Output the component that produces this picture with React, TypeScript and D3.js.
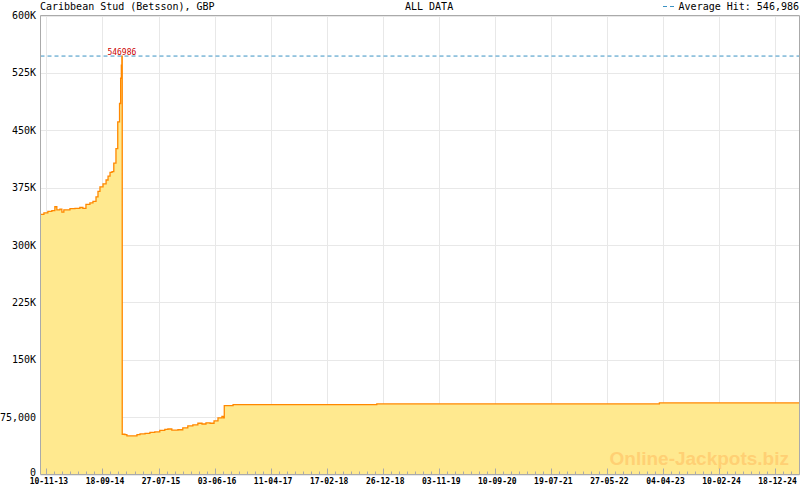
import React from "react";
import * as d3 from "d3";

const dates = [
  "2013-10-08","2013-10-27","2013-11-18","2013-12-10","2013-12-27","2014-01-07","2014-01-24","2014-02-04",
  "2014-02-15","2014-03-21","2014-04-18","2014-05-15","2014-06-01","2014-06-18","2014-07-10","2014-07-27",
  "2014-08-13","2014-08-24","2014-09-04","2014-09-21","2014-10-08","2014-10-19","2014-10-30","2014-11-10",
  "2014-11-20","2014-12-02","2014-12-12","2014-12-22","2014-12-28","2015-01-01","2015-01-04","2015-01-06",
  "2015-01-21","2015-02-01","2015-03-07","2015-03-29","2015-04-15","2015-05-13","2015-06-09","2015-07-06",
  "2015-08-03","2015-08-31","2015-09-17","2015-10-09","2015-11-12","2015-12-09","2016-01-06","2016-02-03",
  "2016-03-02","2016-03-25","2016-04-16","2016-05-09","2016-05-31","2016-06-22","2016-07-14","2016-07-22",
  "2016-07-27","2016-09-14","2018-11-23","2023-03-15","2025-05-03"
];
const values = [
  340000,342000,344000,345000,350000,346000,347000,343000,
  346000,347500,348000,349000,348000,353000,355000,357000,
  363000,370000,376000,380000,385000,390000,395000,396000,
  407000,426000,461000,485000,518000,535000,546986,52600,
  52000,50500,50500,52000,53000,53800,55000,55700,
  57800,59000,59500,58000,58500,61000,63500,65000,
  67000,66000,67500,67000,70000,74000,76000,74000,
  90000,91300,92200,93500,93500
];
const xDomain = ["2013-10-08", "2025-05-03"];
const xTickLabels = ["10-11-13","18-09-14","27-07-15","03-06-16","11-04-17","17-02-18","26-12-18","03-11-19","10-09-20","19-07-21","27-05-22","04-04-23","10-02-24","18-12-24"];
const yTickValues = [0, 75000, 150000, 225000, 300000, 375000, 450000, 525000, 600000];
const yTickLabels = ["0", "75,000", "150K", "225K", "300K", "375K", "450K", "525K", "600K"];
const averageHit = 546986;
const peakLabel = "546986";
const title = "Caribbean Stud (Betsson), GBP";
const subtitle = "ALL DATA";
const legendText = "Average Hit: 546,986";
const watermark = "Online-Jackpots.biz";

const W = 800, H = 490;
const L = 40.5, R = 799.5, T = 15.5, B = 474.5;
const MONO = "'DejaVu Sans Mono', monospace";

export default function App() {
  const parse = d3.timeParse("%Y-%m-%d");
  const parseTick = d3.timeParse("%d-%m-%y");
  const data = dates.map((d, i) => ({ date: parse(d) as Date, value: values[i] }));
  const x = d3.scaleTime().domain(xDomain.map((d) => parse(d) as Date)).range([L, R]);
  const y = d3.scaleLinear().domain([0, 600000]).range([B, T]);

  const majors = xTickLabels.map((t) => parseTick(t) as Date);
  const stepMs = majors[1].getTime() - majors[0].getTime();
  const minorMs = stepMs / 7;
  const minors: Date[] = [];
  for (let t = majors[0].getTime(); t <= x.domain()[1].getTime(); t += minorMs) minors.push(new Date(t));

  const area = d3.area<any>().x((d) => x(d.date)).y0(y(0)).y1((d) => y(d.value)).curve(d3.curveStepAfter);
  const line = d3.line<any>().x((d) => x(d.date)).y((d) => y(d.value)).curve(d3.curveStepAfter);

  const peak = data.reduce((a, b) => (b.value > a.value ? b : a));
  const grid = "#e8e8e8";
  const axis = "#aaaaaa";
  const avgColor = "#3a92c4";

  return (
    <svg width={W} height={H} style={{ position: "absolute", left: 0, top: 0, display: "block", background: "#fff" }}>
      {majors.map((d, i) => (
        <line key={"vg" + i} x1={Math.round(x(d)) + 0.5} x2={Math.round(x(d)) + 0.5} y1={T} y2={B} stroke={grid} strokeWidth={1} />
      ))}
      {yTickValues.map((v, i) => (
        <line key={"hg" + i} x1={L} x2={R} y1={Math.round(y(v)) + 0.5} y2={Math.round(y(v)) + 0.5} stroke={grid} strokeWidth={1} />
      ))}
      <path d={area(data) || ""} fill="#ffe98f" stroke="none" />
      <path d={line(data) || ""} fill="none" stroke="#ff8800" strokeWidth={1.3} />
      <text x={789} y={465} textAnchor="end" fontFamily="'Liberation Sans', Arial, sans-serif" fontWeight="bold" fontSize={19} fill="#ffd074">{watermark}</text>
      <line x1={L} x2={R} y1={y(averageHit)} y2={y(averageHit)} stroke={avgColor} strokeWidth={1} strokeDasharray="4,3" />
      <text x={x(peak.date)} y={y(peak.value) - 1} textAnchor="middle" fontFamily={MONO} fontSize={8} fill="#cc0000">{peakLabel}</text>
      <line x1={L} x2={R} y1={T} y2={T} stroke={axis} />
      <line x1={R} x2={R} y1={T} y2={B} stroke={axis} />
      <line x1={L} x2={L} y1={T} y2={B} stroke={axis} />
      <line x1={L} x2={R} y1={B} y2={B} stroke={axis} />
      {minors.map((d, i) => (
        <line key={"mt" + i} x1={Math.round(x(d)) + 0.5} x2={Math.round(x(d)) + 0.5} y1={B} y2={B - 3} stroke={axis} />
      ))}
      {majors.map((d, i) => (
        <line key={"Mt" + i} x1={Math.round(x(d)) + 0.5} x2={Math.round(x(d)) + 0.5} y1={B} y2={B - 6} stroke={axis} />
      ))}
      {majors.map((d, i) => (
        <text key={"xl" + i} x={x(d) + 2.5} y={484} textAnchor="middle" fontFamily={MONO} fontWeight="bold" fontSize={8} fill="#000">{xTickLabels[i]}</text>
      ))}
      {yTickValues.map((v, i) => (
        <text key={"yl" + i} x={36} y={Math.min(y(v) + 3.5, 476)} textAnchor="end" fontFamily={MONO} fontSize={10} fill="#000">{yTickLabels[i]}</text>
      ))}
      <text x={40} y={10} fontFamily={MONO} fontSize={10} fill="#000">{title}</text>
      <text x={405} y={10} fontFamily={MONO} fontSize={10} fill="#000">{subtitle}</text>
      <line x1={663} x2={675} y1={6.5} y2={6.5} stroke={avgColor} strokeDasharray="4,3" />
      <text x={799} y={10} textAnchor="end" fontFamily={MONO} fontSize={10} fill="#000">{legendText}</text>
    </svg>
  );
}
